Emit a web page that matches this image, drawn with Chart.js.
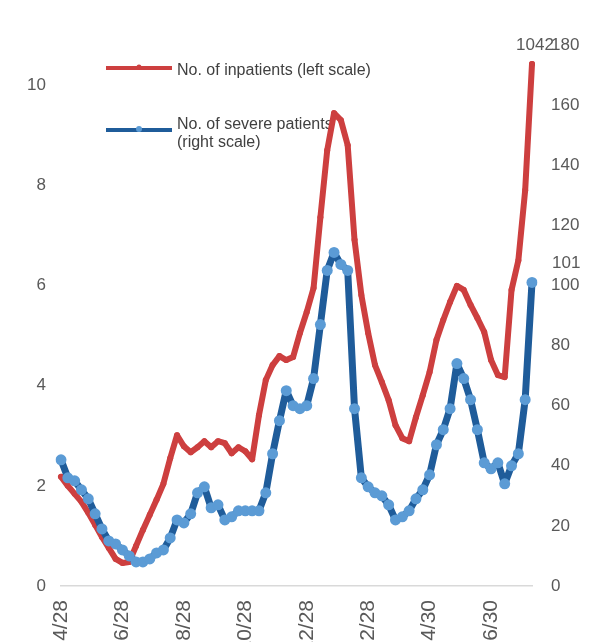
<!DOCTYPE html>
<html>
<head>
<meta charset="utf-8">
<script src="https://cdn.jsdelivr.net/npm/chart.js@4.4.1/dist/chart.umd.min.js"></script>
<style>
  html, body { margin: 0; padding: 0; overflow: hidden; background: #fff; }
</style>
</head>
<body>
<canvas id="chart" width="608" height="680"></canvas>
<script>
// x positions that get a date label, and the labels
const tickIndex = [0, 9, 18, 27, 36, 45, 54, 63];
const tickLabels = ['4/28', '6/28', '8/28', '10/28', '12/28', '2/28', '4/30', '6/30'];

// No. of inpatients (left scale)
const inpatients = [
  2.18, 2.00, 1.84, 1.68, 1.46, 1.22, 0.98, 0.76, 0.54, 0.46,
  0.48, 0.80, 1.12, 1.42, 1.72, 2.04, 2.55, 3.01, 2.79, 2.67,
  2.77, 2.89, 2.77, 2.89, 2.85, 2.65, 2.77, 2.69, 2.53, 3.41,
  4.11, 4.41, 4.59, 4.51, 4.57, 5.05, 5.47, 5.95, 7.36, 8.70,
  9.44, 9.30, 8.80, 6.91, 5.81, 5.05, 4.41, 4.07, 3.71, 3.21,
  2.95, 2.89, 3.37, 3.81, 4.27, 4.91, 5.31, 5.67, 5.99, 5.91,
  5.61, 5.35, 5.07, 4.51, 4.21, 4.17, 5.91, 6.50, 7.90, 10.42
];

// No. of severe patients (right scale)
const severe = [
  42, 36, 35, 32, 29, 24, 19, 15, 14, 12,
  10, 8, 8, 9, 11, 12, 16, 22, 21, 24,
  31, 33, 26, 27, 22, 23, 25, 25, 25, 25,
  31, 44, 55, 65, 60, 59, 60, 69, 87, 105,
  111, 107, 105, 59, 36, 33, 31, 30, 27, 22,
  23, 25, 29, 32, 37, 47, 52, 59, 74, 69,
  62, 52, 41, 39, 41, 34, 40, 44, 62, 101
];

const categories = inpatients.map((v, i) => i);

const redLine = '#CD3F3F';
const blueLine = '#1F5C9A';
const blueDot = '#5B9BD5';
const axisText = '#595959';
const font17 = { family: 'Liberation Sans', size: 17 };

// legend sits inside the plot, under the lines
const legendBox = {
  id: 'legendBox',
  beforeDatasetsDraw(chart) {
    const ctx = chart.ctx;
    ctx.save();
    ctx.font = '16px "Liberation Sans"';
    ctx.textAlign = 'left';
    ctx.textBaseline = 'middle';

    ctx.lineWidth = 4;
    ctx.strokeStyle = redLine;
    ctx.beginPath(); ctx.moveTo(106, 68); ctx.lineTo(172, 68); ctx.stroke();
    ctx.fillStyle = redLine;
    ctx.beginPath(); ctx.arc(139, 67, 2.5, 0, Math.PI * 2); ctx.fill();
    ctx.fillStyle = '#404040';
    ctx.fillText('No. of inpatients (left scale)', 177, 71);

    ctx.strokeStyle = blueLine;
    ctx.beginPath(); ctx.moveTo(106, 130); ctx.lineTo(172, 130); ctx.stroke();
    ctx.fillStyle = blueDot;
    ctx.beginPath(); ctx.arc(139, 129, 3, 0, Math.PI * 2); ctx.fill();
    ctx.fillStyle = '#404040';
    ctx.fillText('No. of severe patients', 177, 125);
    ctx.fillText('(right scale)', 177, 143);
    ctx.restore();
  }
};

// value labels on the last point of each series
const endLabels = {
  id: 'endLabels',
  afterDatasetsDraw(chart) {
    const ctx = chart.ctx;
    const last = inpatients.length - 1;
    const rp = chart.getDatasetMeta(1).data[last];
    const bp = chart.getDatasetMeta(0).data[last];
    ctx.save();
    ctx.font = '17px "Liberation Sans"';
    ctx.fillStyle = axisText;
    ctx.textBaseline = 'middle';
    ctx.textAlign = 'center';
    ctx.fillText(String(Math.round(inpatients[last] * 100)), rp.x + 3, rp.y - 19);
    ctx.textAlign = 'left';
    ctx.fillText(String(severe[last]), bp.x + 20, bp.y - 19);
    ctx.restore();
  }
};

new Chart(document.getElementById('chart').getContext('2d'), {
  type: 'line',
  data: {
    labels: categories,
    datasets: [{
      label: 'No. of severe patients (right scale)',
      data: severe,
      yAxisID: 'y1',
      borderColor: blueLine,
      borderWidth: 7,
      pointRadius: 5.5,
      pointBackgroundColor: blueDot,
      pointBorderWidth: 0,
      order: 0
    }, {
      label: 'No. of inpatients (left scale)',
      data: inpatients,
      yAxisID: 'y',
      borderColor: redLine,
      borderWidth: 6,
      pointRadius: 3,
      pointBackgroundColor: redLine,
      pointBorderWidth: 0,
      order: 1
    }]
  },
  options: {
    responsive: false,
    animation: false,
    layout: { padding: { top: 45, left: 0, right: 0, bottom: 0 } },
    elements: { line: { tension: 0, borderJoinStyle: 'round', borderCapStyle: 'round' } },
    plugins: {
      legend: { display: false },
      tooltip: { enabled: false }
    },
    scales: {
      x: {
        type: 'category',
        grid: { display: false, drawTicks: false },
        border: { display: true, color: '#d9d9d9', width: 1.5 },
        ticks: {
          autoSkip: false,
          minRotation: 90,
          maxRotation: 90,
          padding: 14,
          color: axisText,
          font: { family: 'Liberation Sans', size: 21 },
          callback: (val, i) => {
            const k = tickIndex.indexOf(i);
            return k >= 0 ? tickLabels[k] : null;
          }
        },
        afterFit: s => { s.height = 94; }
      },
      y: {
        position: 'left',
        min: 0,
        max: 10.8,
        grid: { display: false, drawTicks: false },
        border: { display: false },
        ticks: { stepSize: 2, padding: 15, color: axisText, font: font17 },
        afterBuildTicks: s => { s.ticks = s.ticks.filter(t => t.value % 2 === 0); },
        afterFit: s => { s.width = 61; }
      },
      y1: {
        position: 'right',
        min: 0,
        max: 180,
        grid: { display: false, drawTicks: false },
        border: { display: false },
        ticks: { stepSize: 20, padding: 19, color: axisText, font: font17 },
        afterFit: s => { s.width = 76; }
      }
    }
  },
  plugins: [legendBox, endLabels]
});
</script>
</body>
</html>
